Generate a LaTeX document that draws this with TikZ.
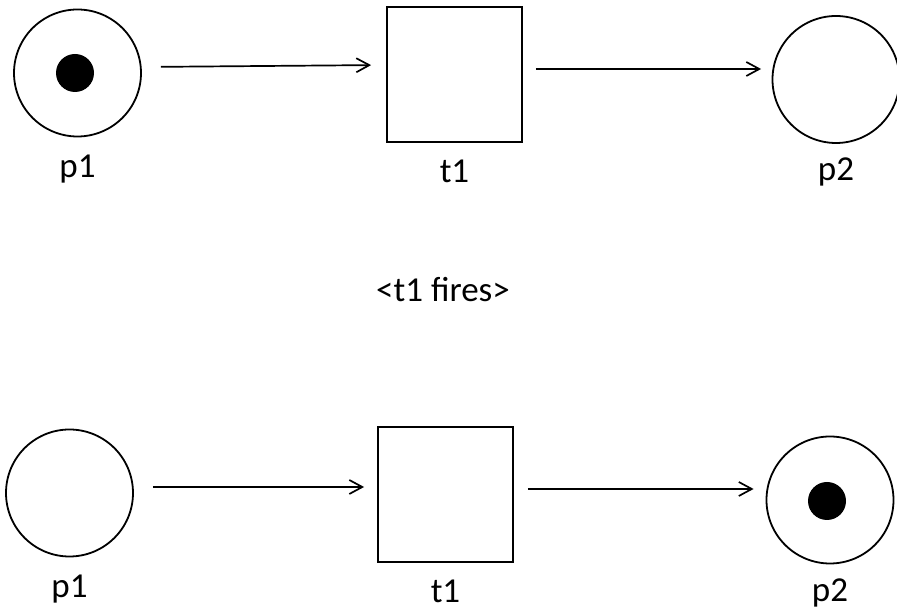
\documentclass[tikz,border=0pt]{standalone}
\usepackage{fontspec}
\setmainfont{Carlito}
\usepackage{tikz}
\usetikzlibrary{arrows.meta, positioning}

\begin{document}
\begin{tikzpicture}[x=1pt, y=1pt, node distance=40pt, font=\fontsize{35}{42}\selectfont,
    placecirc/.style={circle, draw, line width=1.8pt, minimum size=127pt, inner sep=0pt},
    transbox/.style={rectangle, draw, line width=1.8pt, minimum size=135pt, inner sep=0pt},
    tokendot/.style={circle, fill=black, minimum size=38pt, inner sep=0pt},
    arc/.style={-{Straight Barb[length=13pt, width=14pt]}, line width=1.7pt},
    lbl/.style={anchor=base}]
    \useasboundingbox (0,0) rectangle (897,609);

    % marking before t1 fires
    \node[placecirc] (p1) at (77.5,536) {};
    \node[tokendot] (tok1) at (75,536) {};
    \node[transbox] (t1) at (454.5,534.5) {};
    \node[placecirc] (p2) at (836,529.5) {};
    \node[below=of p1, lbl] (p1_lbl) {p1};
    \node[below=of t1, lbl] (t1_lbl) {t1};
    \node[below=37pt of p2, lbl] (p2_lbl) {p2};
    \draw[arc, shorten <=19pt, shorten >=15pt] ([yshift=6pt]p1.east) -- ([yshift=9.5pt]t1.west);
    \draw[arc, shorten <=13pt, shorten >=10.5pt] ([yshift=5.5pt]t1.east) -- ([yshift=10.5pt]p2.west);

    \node[lbl] (fires) at (443,307) {<t1 fires>};

    % marking after t1 fires
    \node[placecirc] (p1_f) at (69.5,116) {};
    \node[transbox] (t1_f) at (445.5,114.5) {};
    \node[placecirc] (p2_f) at (830,109) {};
    \node[tokendot] (tok2) at (827,108) {};
    \node[below=of p1_f, lbl] (p1_f_lbl) {p1};
    \node[below=of t1_f, lbl] (t1_f_lbl) {t1};
    \node[below=37pt of p2_f, lbl] (p2_f_lbl) {p2};
    \draw[arc, shorten <=19pt, shorten >=13pt] ([yshift=6pt]p1_f.east) -- ([yshift=7.5pt]t1_f.west);
    \draw[arc, shorten <=14pt, shorten >=12pt] ([yshift=5.5pt]t1_f.east) -- ([yshift=11pt]p2_f.west);
\end{tikzpicture}
\end{document}
